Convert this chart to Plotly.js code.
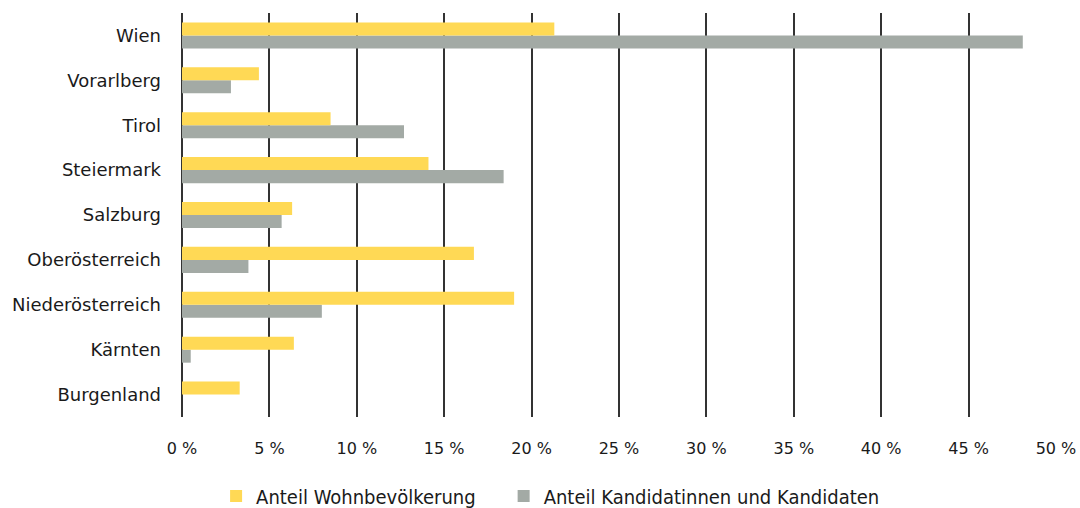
<!DOCTYPE html>
<html>
<head>
<meta charset="utf-8">
<script src="https://cdn.plot.ly/plotly-3.0.1.min.js"></script>
<style>html,body{margin:0;padding:0;background:#fff;}#chart{width:1080px;height:508px;}</style>
</head>
<body>
<div id="chart"></div>
<script>
const categories = ["Burgenland","Kärnten","Niederösterreich","Oberösterreich","Salzburg","Steiermark","Tirol","Vorarlberg","Wien"];
const wohnbevoelkerung = [3.3, 6.4, 19.0, 16.7, 6.3, 14.1, 8.5, 4.4, 21.3];
const kandidaten = [0.0, 0.5, 8.0, 3.8, 5.7, 18.4, 12.7, 2.8, 48.1];
const tickValues = [0,5,10,15,20,25,30,35,40,45,50];
const tickLabels = ["0 %","5 %","10 %","15 %","20 %","25 %","30 %","35 %","40 %","45 %","50 %"];

const traces = [
  {type:"bar", orientation:"h", name:"Anteil Kandidatinnen und Kandidaten", y:categories, x:kandidaten,
   marker:{color:"#a3aaa5"}, legend:"legend2", hoverinfo:"x+y"},
  {type:"bar", orientation:"h", name:"Anteil Wohnbevölkerung", y:categories, x:wohnbevoelkerung,
   marker:{color:"#ffd955"}, legend:"legend", hoverinfo:"x+y"}
];

const legendFont = {family:"DejaVu Sans Condensed, DejaVu Sans, sans-serif", size:20, color:"#1a1a1a"};

const layout = {
  width:1080, height:508,
  margin:{l:182, r:24, t:13, b:91, autoexpand:false},
  paper_bgcolor:"#fff", plot_bgcolor:"#fff",
  barmode:"group", bargap:0.42, bargroupgap:0,
  font:{family:"DejaVu Sans, sans-serif", color:"#1a1a1a"},
  xaxis:{range:[0,50], tickvals:tickValues, ticktext:tickLabels, showgrid:true, gridcolor:"#333", gridwidth:2,
         zeroline:true, zerolinecolor:"#333", zerolinewidth:2, showline:false, ticks:"", ticklabelstandoff:20,
         tickfont:{family:"DejaVu Sans, sans-serif", size:16, color:"#1a1a1a"}, fixedrange:true},
  yaxis:{categoryorder:"array", categoryarray:categories, showgrid:false, zeroline:false, showline:false, ticks:"",
         ticklabelstandoff:20, tickfont:{family:"DejaVu Sans, sans-serif", size:18, color:"#1a1a1a"}, fixedrange:true},
  showlegend:true,
  legend:{orientation:"h", x:0.039, xanchor:"left", xref:"paper", y:-0.147, yanchor:"top", yref:"paper",
          font:legendFont, itemwidth:30},
  legend2:{orientation:"h", x:0.368, xanchor:"left", xref:"paper", y:-0.147, yanchor:"top", yref:"paper",
          font:legendFont, itemwidth:30}
};

Plotly.newPlot("chart", traces, layout, {displayModeBar:false, staticPlot:true});
</script>
</body>
</html>
